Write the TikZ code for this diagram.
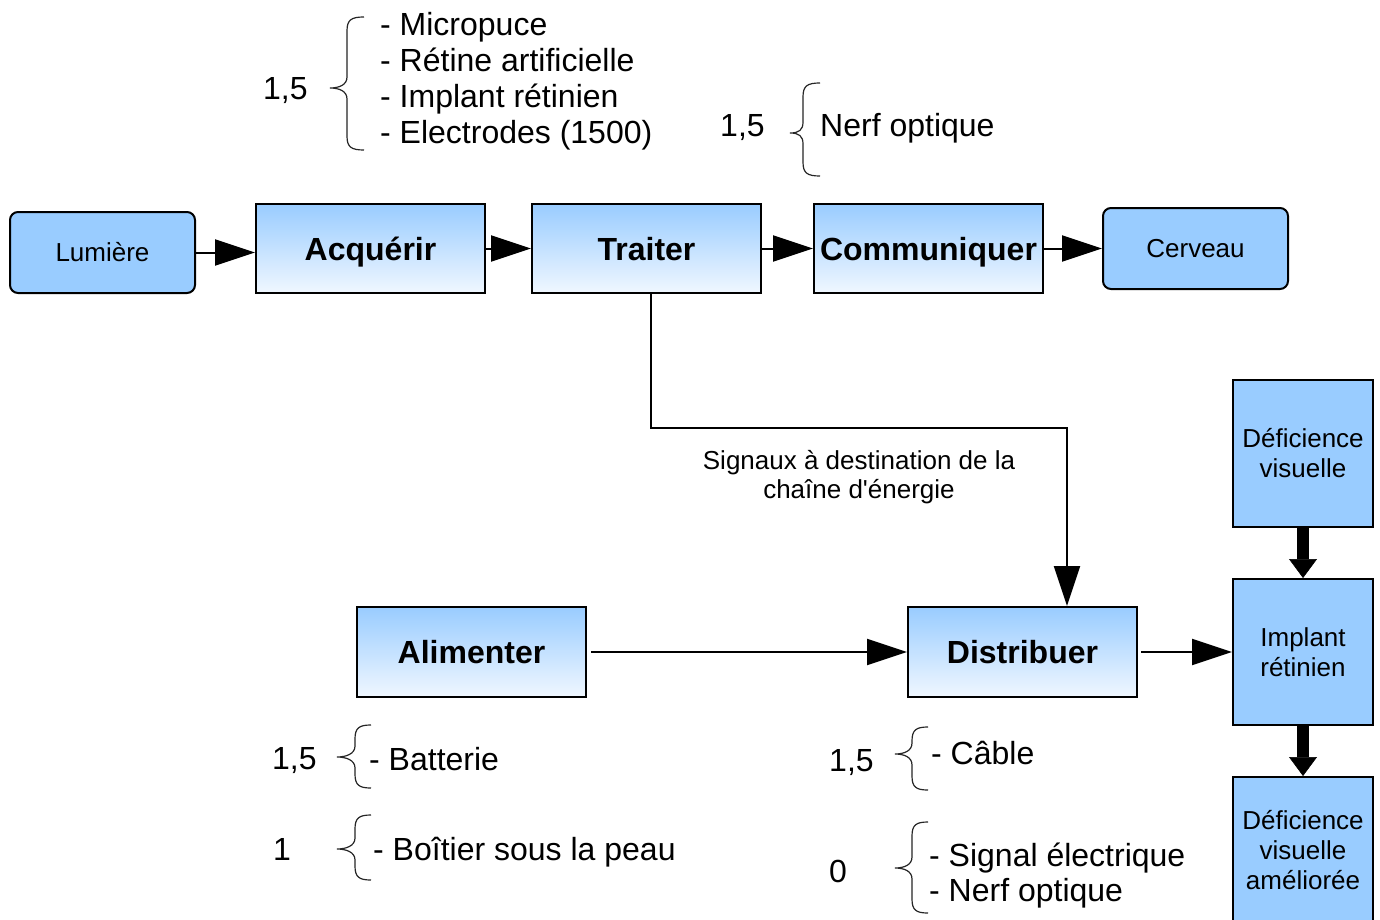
\documentclass[tikz,border=0pt]{standalone}
\usepackage{fontspec}
\setmainfont{Liberation Sans}
\usetikzlibrary{arrows.meta}
\definecolor{boxblue}{HTML}{99CCFF}
\definecolor{boxpale}{HTML}{F0F7FF}
% #1 tip x, #2 spine x, #3 hook x, #4 top y, #5 tip y, #6 bottom y
\newcommand\mybrace[6]{%
  \draw[bracestyle] (#3,#4) .. controls (#2+4,#4) and (#2,#4+3) .. (#2,#4+14)
    -- (#2,#5-11) .. controls (#2,#5-3) and (#1+9,#5) .. (#1,#5)
    .. controls (#1+9,#5) and (#2,#5+3) .. (#2,#5+11)
    -- (#2,#6-14) .. controls (#2,#6-3) and (#2+4,#6) .. (#3,#6);}
\begin{document}
\begin{tikzpicture}[x=1pt,y=-1pt,
  every node/.style={inner sep=0pt},
  gbox/.style={draw=black,line width=2pt,top color=boxblue,bottom color=boxpale,
    minimum width=229pt,minimum height=89pt,
    font=\fontsize{32}{36}\selectfont\bfseries,text height=23pt,text depth=0pt},
  rbox/.style={draw=black,line width=2pt,fill=boxblue,rounded corners=8pt,
    minimum width=185pt,minimum height=81pt,
    font=\fontsize{26}{30}\selectfont,text height=18.6pt,text depth=0pt},
  cbox/.style={draw=black,line width=2pt,fill=boxblue,minimum width=140pt,
    minimum height=147pt,align=center,font=\fontsize{26}{30}\selectfont},
  conn/.style={line width=2pt,-{Triangle[length=40pt,width=26pt]}},
  fat/.style={line width=12pt,-{Triangle[length=19pt,width=28pt,line width=0.5pt]}},
  itemtxt/.style={font=\fontsize{32}{36}\selectfont,anchor=base west},
  lbl/.style={font=\fontsize{26}{29}\selectfont,align=center},
  bracestyle/.style={line width=1.2pt,draw=black!85}
]
\fill[white] (0,0) rectangle (1380,920);
\useasboundingbox (0,0) rectangle (1380,920);

% top chain
\node[rbox] (lumiere) at (102.5,252.5) {Lumière};
\node[gbox] (acq) at (370.5,248.5) {Acquérir};
\node[gbox] (traiter) at (646.5,248.5) {Traiter};
\node[gbox] (comm) at (928.5,248.5) {Communiquer};
\node[rbox] (cerveau) at (1195.5,248.5) {Cerveau};

% energy chain
\node[gbox,minimum height=90pt] (alim) at (471.5,652) {Alimenter};
\node[gbox,minimum height=90pt] (distrib) at (1022.5,652) {Distribuer};

% right column
\node[cbox] (def1) at (1303,453.5) {Déficience\\visuelle};
\node[cbox,minimum height=146pt] (impl) at (1303,652) {Implant\\rétinien};
\node[cbox] (def2) at (1303,850.5) {Déficience\\visuelle\\améliorée};

% connectors
\draw[conn] (lumiere.east) -- (lumiere.east -| acq.west);
\draw[conn] (acq) -- (traiter);
\draw[conn] (traiter) -- (comm);
\draw[conn] (comm) -- (cerveau);
\draw[conn] ([xshift=4.5pt]traiter.south) -- ++(0,134) -| ([xshift=44.5pt]distrib.north);
\draw[conn,shorten <=4pt] (alim) -- (distrib);
\draw[conn,shorten <=3pt] (distrib) -- (impl);
\draw[fat] (def1) -- (impl);
\draw[fat] (impl) -- (def2);

\node[lbl] (signaux) at (859,477) {Signaux à destination de la\\chaîne d\textquotesingle énergie};

% braces
\mybrace{330}{347}{364}{17}{88}{150}
\mybrace{790}{803}{820}{83}{133}{176}
\mybrace{337}{355}{371}{725}{757}{788}
\mybrace{337}{355}{371}{815}{849}{880}
\mybrace{895}{912}{928}{727}{754}{790}
\mybrace{895}{912}{928}{822}{868}{913}

% annotations
\node[itemtxt] (n1) at (263,100) {1,5};
\node[itemtxt] (i1) at (380,36) {- Micropuce};
\node[itemtxt] (i2) at (380,72) {- Rétine artificielle};
\node[itemtxt] (i3) at (380,108) {- Implant rétinien};
\node[itemtxt] (i4) at (380,144) {- Electrodes (1500)};

\node[itemtxt] (n2) at (720,137) {1,5};
\node[itemtxt] (i5) at (820,137) {Nerf optique};

\node[itemtxt] (n3) at (272,769) {1,5};
\node[itemtxt] (i6) at (369,770) {- Batterie};

\node[itemtxt] (n4) at (273,860) {1};
\node[itemtxt] (i7) at (373,860) {- Boîtier sous la peau};

\node[itemtxt] (n5) at (829,771) {1,5};
\node[itemtxt] (i8) at (931,764) {- Câble};

\node[itemtxt] (n6) at (829,882) {0};
\node[itemtxt] (i9) at (929,866) {- Signal électrique};
\node[itemtxt] (i10) at (929,901) {- Nerf optique};
\end{tikzpicture}
\end{document}
